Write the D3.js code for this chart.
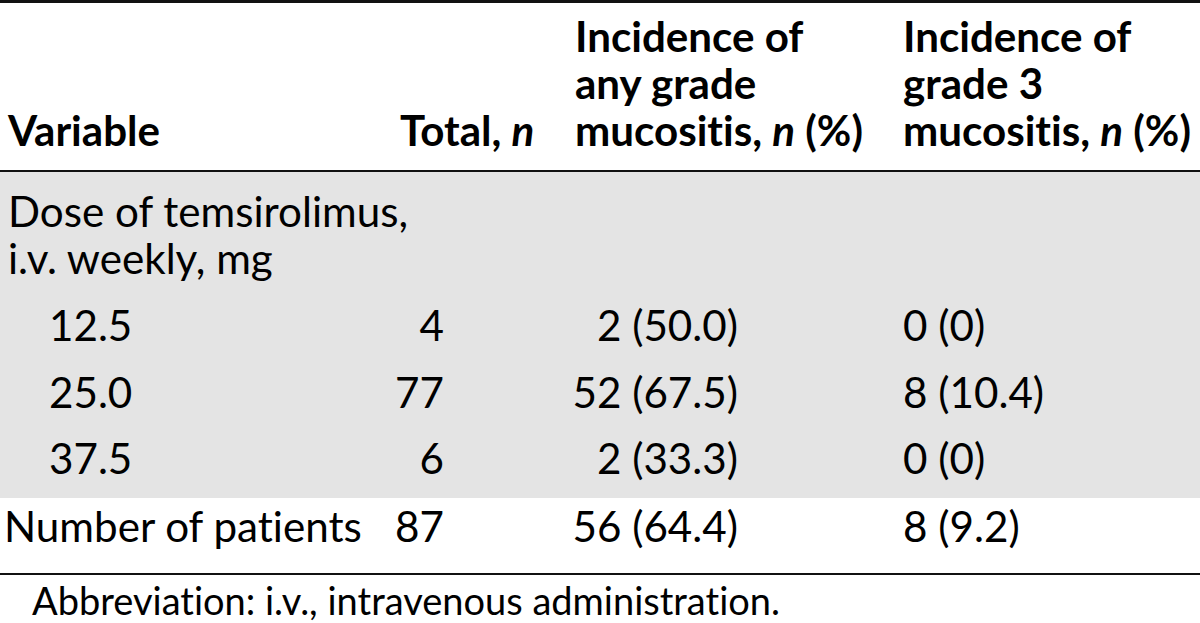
<!DOCTYPE html>
<html>
<head>
<meta charset="utf-8">
<script src="https://cdn.jsdelivr.net/npm/d3@7"></script>
<style>
  html, body { margin: 0; padding: 0; background: #fff; }
  svg { display: block; }
  text { font-variant-ligatures: none; font-feature-settings: "liga" 0, "clig" 0; }
</style>
</head>
<body>
<svg id="table" width="1200" height="623"></svg>
<script>
// table content
const headerLines = [
    [ [["Variable"]] ],
    [ [["Total, "], ["n", true]] ],
    [ [["Incidence of"]], [["any grade"]], [["mucositis, "], ["n", true], [" (%)"]] ],
    [ [["Incidence of"]], [["grade 3"]], [["mucositis, "], ["n", true], [" (%)"]] ]
];
const groupLabel = ["Dose of temsirolimus,", "i.v. weekly, mg"];
const doses = ["12.5", "25.0", "37.5"];
const doseTotals = [4, 77, 6];
const doseAnyGrade = ["2 (50.0)", "52 (67.5)", "2 (33.3)"];
const doseGrade3 = ["0 (0)", "8 (10.4)", "0 (0)"];
const totalLabel = "Number of patients";
const totalN = 87;
const totalAnyGrade = "56 (64.4)";
const totalGrade3 = "8 (9.2)";
const footnote = "Abbreviation: i.v., intravenous administration.";

const W = 1200, H = 623;
const FONT = "Lato, 'Noto Sans', sans-serif";
const svg = d3.select('#table');

// pick font sizes so text widths come close to the original Calibri
function fitSize(text, weight, target) {
    const t = svg.append('text')
        .attr('font-family', FONT)
        .attr('font-weight', weight)
        .attr('font-size', 40)
        .text(text);
    const w = t.node().getComputedTextLength();
    t.remove();
    return 40 * target / w;
}
const bodySize = fitSize(totalLabel, 400, 358);
const headSize = fitSize("mucositis, n (%)", 700, 289);
const noteSize = fitSize(footnote, 400, 748);

// column positions
const xVar = 8, xIndent = 49;
const xTotalHead = 400, xTotalVal = 444;
const xAnyHead = 575, xAnyVal = 738;
const xG3 = 903;

// row baselines
const headBase = d3.scaleLinear().domain([0, 2]).range([52, 146]);
const rowY = d3.scalePoint().domain(doses).range([341, 474]);

// shaded band + rules
svg.append('rect')
    .attr('x', 0).attr('y', 172)
    .attr('width', W).attr('height', 498 - 172)
    .attr('fill', '#e4e4e4');

const rules = [{y: 1.5, w: 3}, {y: 171, w: 2.2}, {y: 574, w: 2.2}];
svg.selectAll('line.rule')
    .data(rules)
    .enter()
    .append('line')
    .attr('class', 'rule')
    .attr('x1', 0).attr('x2', W)
    .attr('y1', d => d.y).attr('y2', d => d.y)
    .attr('stroke', '#111')
    .attr('stroke-width', d => d.w);

// header
const headX = [xVar, xTotalHead, xAnyHead, xG3];
headerLines.forEach((lines, ci) => {
    lines.forEach((parts, li) => {
        const lineIdx = li + (3 - lines.length);
        const t = svg.append('text')
            .attr('x', headX[ci])
            .attr('y', headBase(lineIdx))
            .attr('font-family', FONT)
            .attr('font-weight', 700)
            .attr('font-size', headSize)
            .attr('fill', '#000');
        parts.forEach(p => {
            t.append('tspan')
                .attr('font-style', p[1] ? 'italic' : null)
                .text(p[0]);
        });
    });
});

function cell(x, y, txt, anchor, size) {
    svg.append('text')
        .attr('x', x).attr('y', y)
        .attr('text-anchor', anchor || 'start')
        .attr('font-family', FONT)
        .attr('font-size', size || bodySize)
        .attr('fill', '#000')
        .text(txt);
}

// group label
cell(xVar, 227, groupLabel[0]);
cell(xVar, 274, groupLabel[1]);

// dose rows
doses.forEach((d, i) => {
    const y = rowY(d);
    cell(xIndent, y, d);
    cell(xTotalVal, y, doseTotals[i], 'end');
    cell(xAnyVal, y, doseAnyGrade[i], 'end');
    cell(xG3, y, doseGrade3[i]);
});

// total row
cell(xVar - 4, 542, totalLabel);
cell(xTotalVal, 542, totalN, 'end');
cell(xAnyVal, 542, totalAnyGrade, 'end');
cell(xG3, 542, totalGrade3);

// footnote
cell(32, 615, footnote, 'start', noteSize);
</script>
</body>
</html>
